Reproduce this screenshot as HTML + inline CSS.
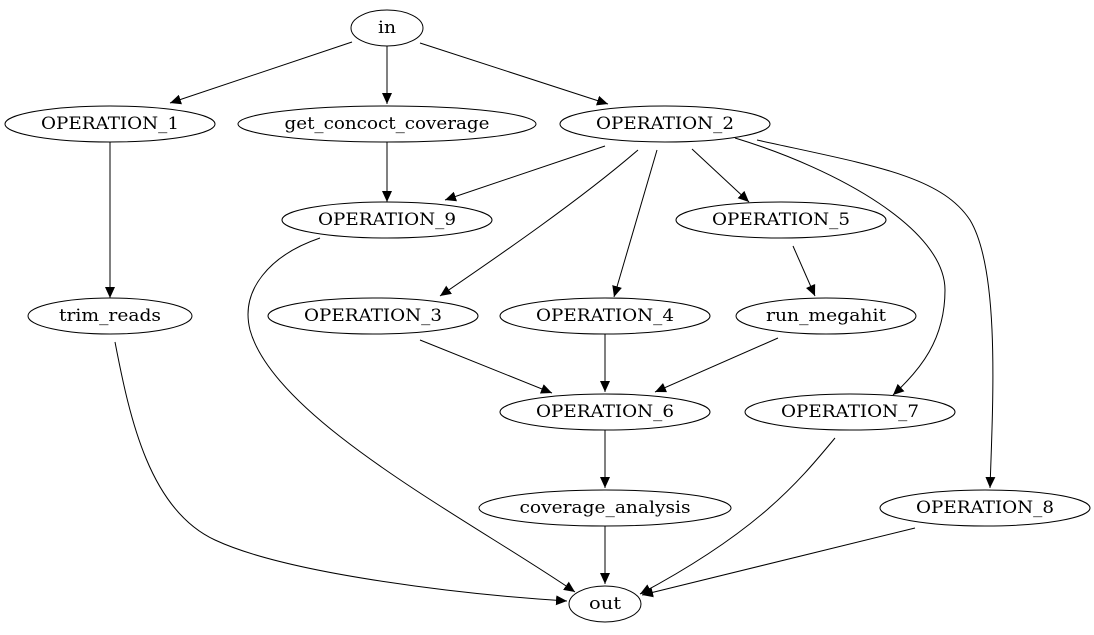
<!DOCTYPE html>
<html><head><meta charset="utf-8"><style>
html,body{margin:0;padding:0;background:#fff;}
svg{display:block;}
</style></head><body>
<svg width="1094" height="635" viewBox="0 0 1094 635" xmlns="http://www.w3.org/2000/svg">
<defs>
<marker id="a" markerUnits="userSpaceOnUse" markerWidth="12" markerHeight="10" refX="11" refY="5" orient="auto">
<path d="M0,0 L11,5 L0,10 Z" fill="#000"/>
</marker>
</defs>
<g fill="none" stroke="#000" stroke-width="1" marker-end="url(#a)">
<path d="M352,42 L170,103"/>
<path d="M387,46 L387,104"/>
<path d="M420,43 L608,104"/>
<path d="M110,142 L110,298"/>
<path d="M387,142 L387,202"/>
<path d="M605,146 L445,200"/>
<path d="M638,150 C580,200 500,255 440,296"/>
<path d="M657,150 L614,297"/>
<path d="M692,149 L749,202"/>
<path d="M735,138 C840,170 945,230 945,290 C945,340 920,370 893,395"/>
<path d="M757,140 C870,165 940,175 970,220 C1000,270 993,400 990,488"/>
<path d="M793,246 L815,296"/>
<path d="M420,340 L552,393"/>
<path d="M605,334 L605,392"/>
<path d="M778,338 L655,392"/>
<path d="M605,430 L605,488"/>
<path d="M605,526 L605,584"/>
<path d="M320,238 C270,255 240,290 250,330 C275,420 470,520 575,592"/>
<path d="M115,342 C130,420 150,510 215,540 C290,575 470,595 567,601"/>
<path d="M835,438 C800,480 760,530 640,594"/>
<path d="M915,528 L642,595"/>
</g>
<g fill="none" stroke="#000" stroke-width="1">
<ellipse cx="387" cy="28" rx="36" ry="18"/>
<ellipse cx="110" cy="124" rx="105" ry="18"/>
<ellipse cx="387" cy="124" rx="149" ry="18"/>
<ellipse cx="665" cy="124" rx="105" ry="18"/>
<ellipse cx="387" cy="220" rx="105" ry="18"/>
<ellipse cx="781" cy="220" rx="105" ry="18"/>
<ellipse cx="110" cy="316" rx="82" ry="18"/>
<ellipse cx="373" cy="316" rx="105" ry="18"/>
<ellipse cx="605" cy="316" rx="105" ry="18"/>
<ellipse cx="826" cy="316" rx="90" ry="18"/>
<ellipse cx="605" cy="412" rx="105" ry="18"/>
<ellipse cx="850" cy="412" rx="105" ry="18"/>
<ellipse cx="605" cy="508" rx="126" ry="18"/>
<ellipse cx="985" cy="508" rx="105" ry="18"/>
<ellipse cx="605" cy="604" rx="36" ry="18"/>
</g>
<g text-anchor="middle" font-family="DejaVu Serif, Liberation Serif, serif" font-size="17" fill="#000">
<text x="387" y="33" textLength="18" lengthAdjust="spacingAndGlyphs">in</text>
<text x="110" y="129" textLength="138" lengthAdjust="spacingAndGlyphs">OPERATION_1</text>
<text x="387" y="129" textLength="205" lengthAdjust="spacingAndGlyphs">get_concoct_coverage</text>
<text x="665" y="129" textLength="138" lengthAdjust="spacingAndGlyphs">OPERATION_2</text>
<text x="387" y="225" textLength="138" lengthAdjust="spacingAndGlyphs">OPERATION_9</text>
<text x="781" y="225" textLength="138" lengthAdjust="spacingAndGlyphs">OPERATION_5</text>
<text x="110" y="321" textLength="102" lengthAdjust="spacingAndGlyphs">trim_reads</text>
<text x="373" y="321" textLength="138" lengthAdjust="spacingAndGlyphs">OPERATION_3</text>
<text x="605" y="321" textLength="138" lengthAdjust="spacingAndGlyphs">OPERATION_4</text>
<text x="826" y="321" textLength="120" lengthAdjust="spacingAndGlyphs">run_megahit</text>
<text x="605" y="417" textLength="138" lengthAdjust="spacingAndGlyphs">OPERATION_6</text>
<text x="850" y="417" textLength="138" lengthAdjust="spacingAndGlyphs">OPERATION_7</text>
<text x="605" y="513" textLength="171" lengthAdjust="spacingAndGlyphs">coverage_analysis</text>
<text x="985" y="513" textLength="138" lengthAdjust="spacingAndGlyphs">OPERATION_8</text>
<text x="605" y="609" textLength="32" lengthAdjust="spacingAndGlyphs">out</text>
</g>
</svg>
</body></html>
